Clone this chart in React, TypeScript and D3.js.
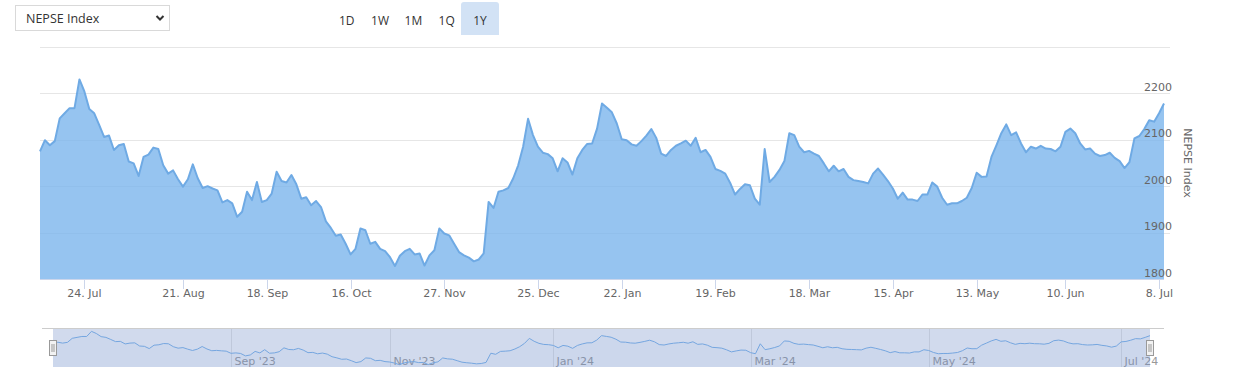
import React from "react";
import * as d3 from "d3";

// NEPSE index closing values, one per trading day (ordinal axis), Jul 2023 – Jul 2024
const nepseValues: number[] = [
  2075, 2099, 2088, 2097, 2146, 2157, 2168, 2168, 2230, 2204, 2166, 2157, 2132, 2106, 2109, 2078, 2088, 2091, 2053, 2049,
  2022, 2063, 2068, 2083, 2080, 2045, 2027, 2034, 2015, 1999, 2015, 2047, 2017, 1996, 2000, 1995, 1991, 1965, 1970, 1963,
  1934, 1945, 1988, 1970, 2009, 1966, 1970, 1984, 2031, 2011, 2008, 2024, 2004, 1973, 1976, 1959, 1968, 1955,
  1924, 1910, 1893, 1896, 1876, 1853, 1865, 1909, 1905, 1876, 1880, 1865, 1860, 1847, 1828, 1850, 1860, 1865, 1853, 1855,
  1829, 1851, 1862, 1909, 1898, 1894, 1876, 1858, 1851, 1846, 1838, 1842, 1855, 1966, 1953, 1988, 1991, 1996, 2017, 2045,
  2085, 2145, 2110, 2085, 2072, 2069, 2060, 2032, 2060, 2051, 2025, 2060, 2078, 2091, 2092, 2124, 2178,
  2169, 2159, 2135, 2101, 2099, 2090, 2087, 2097, 2109, 2123, 2104, 2070, 2065, 2078, 2087, 2092, 2098, 2087, 2104, 2073,
  2078, 2063, 2037, 2033, 2027, 2007, 1982, 1994, 2004, 2002, 1973, 1960, 2080, 2009, 2020, 2035, 2054, 2114, 2110, 2085,
  2073, 2076, 2070, 2065, 2049, 2032, 2044, 2032, 2037, 2020, 2013, 2011, 2009, 2006, 2027, 2038, 2025,
  2011, 1995, 1973, 1986, 1971, 1971, 1968, 1982, 1982, 2008, 1999, 1975, 1960, 1963, 1963, 1968, 1975, 1996, 2029,
  2020, 2021, 2063, 2088, 2114, 2133, 2110, 2116, 2092, 2073, 2085, 2081, 2087, 2081, 2080, 2075, 2085, 2117, 2124, 2114,
  2092, 2079, 2081, 2070, 2065, 2067, 2072, 2061, 2054, 2039, 2052, 2103, 2108, 2123, 2142, 2139, 2157, 2178,
];

const xTickIndex: number[] = [9, 29, 46, 63, 82, 101, 118, 137, 156, 173, 190, 208, 227];
const xTickLabels: string[] = [
  "24. Jul", "21. Aug", "18. Sep", "16. Oct", "27. Nov", "25. Dec", "22. Jan",
  "19. Feb", "18. Mar", "15. Apr", "13. May", "10. Jun", "8. Jul",
];
const yTickValues: number[] = [1800, 1900, 2000, 2100, 2200];
const yGridValues: number[] = [1900, 2000, 2100, 2200, 2300];
const navTickIndex: number[] = [37, 70, 104, 145, 182, 222];
const navTickLabels: string[] = ["Sep '23", "Nov '23", "Jan '24", "Mar '24", "May '24", "Jul '24"];
const rangeButtons: string[] = ["1D", "1W", "1M", "1Q", "1Y"];
const selectedRange = "1Y";
const indexName = "NEPSE Index";

const W = 1237;
const H = 367;
const plot = { left: 40, right: 1164, top: 46.9, bottom: 279 };
const nav = { left: 53, right: 1150, top: 328, height: 40, outlineLeft: 42, outlineRight: 1164 };
const axisFont = "'DejaVu Sans', Verdana, sans-serif";
const uiFont = "'Open Sans', 'Noto Sans', sans-serif";

export default function App() {
  const n = nepseValues.length;
  const x = d3.scaleLinear().domain([0, n - 1]).range([plot.left, plot.right]);
  const y = d3.scaleLinear().domain([1800, 2300]).range([plot.bottom, plot.top]);

  const area = d3
    .area<number>()
    .x((_, i) => x(i))
    .y0(plot.bottom)
    .y1((d) => y(d));
  const line = d3
    .line<number>()
    .x((_, i) => x(i))
    .y((d) => y(d));

  const vMin = d3.min(nepseValues) as number;
  const vMax = d3.max(nepseValues) as number;
  const pad = (vMax - vMin) * 0.1;
  const nx = d3.scaleLinear().domain([0, n - 1]).range([nav.left, nav.right]);
  const ny = d3
    .scaleLinear()
    .domain([vMin - pad, vMax + pad])
    .range([nav.top + nav.height, nav.top]);
  const navArea = d3
    .area<number>()
    .x((_, i) => nx(i))
    .y0(nav.top + nav.height)
    .y1((d) => ny(d));
  const navLine = d3
    .line<number>()
    .x((_, i) => nx(i))
    .y((d) => ny(d));

  const btnX = d3.scalePoint<string>().domain(rangeButtons).range([346.7, 480]);

  const handle = (cx: number) => (
    <g>
      <rect x={cx - 3.5} y={340.5} width={7} height={15} fill="#f2f2f2" stroke="#999999" strokeWidth={1} />
      <line x1={cx - 1} x2={cx - 1} y1={344} y2={352} stroke="#999999" strokeWidth={1} />
      <line x1={cx + 1} x2={cx + 1} y1={344} y2={352} stroke="#999999" strokeWidth={1} />
    </g>
  );

  return (
    <div style={{ position: "absolute", left: 0, top: 0 }}>
      <svg width={W} height={H} style={{ display: "block" }}>
        <rect x={0} y={0} width={W} height={H} fill="#ffffff" />

        {/* dropdown */}
        <rect x={15.5} y={5.5} width={154} height={25} fill="#ffffff" stroke="#d9d9d9" strokeWidth={1} />
        <text x={26} y={23} fontFamily={uiFont} fontSize={12.5} fill="#333333">
          {indexName}
        </text>
        <path d="M156.5,16 L160,19.5 L163.5,16" fill="none" stroke="#333333" strokeWidth={2} />

        {/* range buttons */}
        {rangeButtons.map((b) => {
          const cx = btnX(b) as number;
          const sel = b === selectedRange;
          return (
            <g key={b}>
              {sel && (
                <path
                  d={`M${cx - 19},35 L${cx - 19},5 Q${cx - 19},2 ${cx - 16},2 L${cx + 16},2 Q${cx + 19},2 ${cx + 19},5 L${cx + 19},35 Z`}
                  fill="#d2e2f5"
                />
              )}
              <text
                x={cx}
                y={25}
                textAnchor="middle"
                fontFamily={uiFont}
                fontSize={12}
                fill="#333333"
              >
                {b}
              </text>
            </g>
          );
        })}

        {/* grid lines */}
        {yGridValues.map((v) => (
          <line
            key={v}
            x1={plot.left}
            x2={plot.right + 6}
            y1={Math.round(y(v)) + 0.5}
            y2={Math.round(y(v)) + 0.5}
            stroke="#e6e6e6"
            strokeWidth={1}
          />
        ))}

        {/* area series */}
        <path d={area(nepseValues) || ""} fill="#7cb5ec" fillOpacity={0.8} />
        <path d={line(nepseValues) || ""} fill="none" stroke="#6faae4" strokeWidth={2} strokeLinejoin="round" />

        {/* x axis */}
        <line x1={plot.left} x2={plot.right} y1={plot.bottom + 0.5} y2={plot.bottom + 0.5} stroke="#ccd6eb" />
        {xTickIndex.map((ti, i) => {
          const px = Math.round(x(ti)) + 0.5;
          return (
            <g key={xTickLabels[i]}>
              <line x1={px} x2={px} y1={plot.bottom} y2={plot.bottom + 10} stroke="#ccd6eb" strokeWidth={1} />
              <text x={px} y={297} textAnchor="middle" fontFamily={axisFont} fontSize={11} fill="#666666">
                {xTickLabels[i]}
              </text>
            </g>
          );
        })}

        {/* y axis labels */}
        {yTickValues.map((v) => (
          <text
            key={v}
            x={1172}
            y={y(v) - 2.5}
            textAnchor="end"
            fontFamily={axisFont}
            fontSize={11}
            fill="#666666"
          >
            {v}
          </text>
        ))}
        <text
          transform={`translate(1183.5,163) rotate(90)`}
          textAnchor="middle"
          fontFamily={axisFont}
          fontSize={11}
          fill="#666666"
        >
          {indexName}
        </text>

        {/* navigator */}
        {navTickIndex.map((ti, i) => {
          const px = Math.round(nx(ti)) + 0.5;
          return (
            <g key={navTickLabels[i]}>
              <line x1={px} x2={px} y1={nav.top} y2={nav.top + nav.height} stroke="#e6e6e6" strokeWidth={1} />
              <text x={px + 3} y={365} fontFamily={axisFont} fontSize={11} fill="#999999">
                {navTickLabels[i]}
              </text>
            </g>
          );
        })}
        <path d={navArea(nepseValues) || ""} fill="#7cb5ec" fillOpacity={0.05} />
        <path d={navLine(nepseValues) || ""} fill="none" stroke="#7cb5ec" strokeWidth={1} />
        <rect
          x={nav.left}
          y={nav.top}
          width={nav.right - nav.left}
          height={nav.height}
          fill="rgba(102,133,194,0.3)"
        />
        <line
          x1={nav.outlineLeft}
          x2={nav.outlineRight}
          y1={nav.top + 0.5}
          y2={nav.top + 0.5}
          stroke="#cccccc"
          strokeWidth={1}
        />
        {handle(nav.left)}
        {handle(nav.right)}
      </svg>
    </div>
  );
}
